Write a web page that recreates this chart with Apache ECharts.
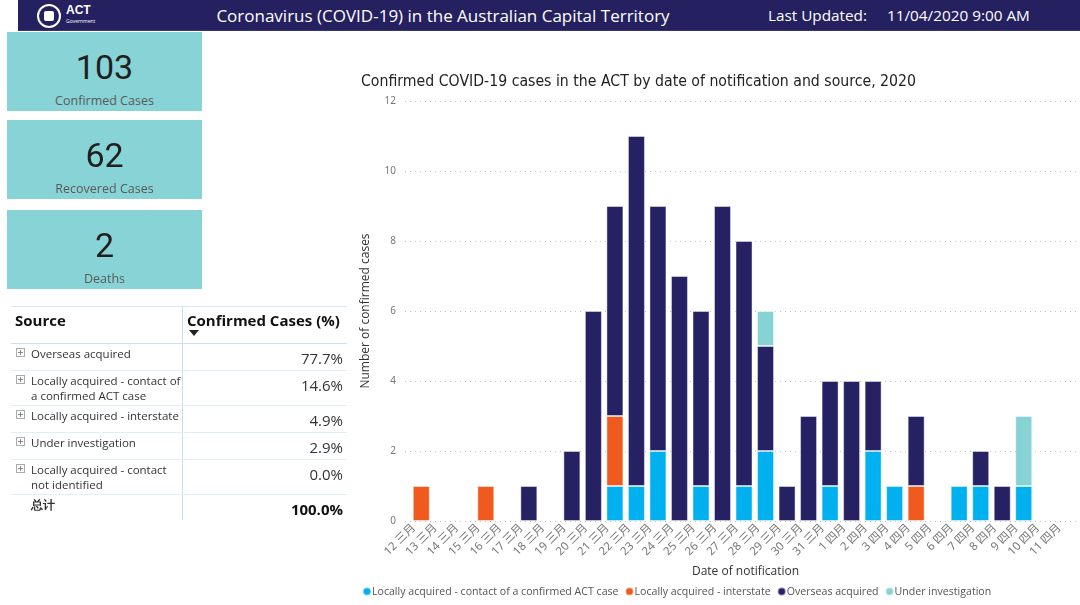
<!DOCTYPE html>
<html>
<head>
<meta charset="utf-8">
<script src="https://cdn.jsdelivr.net/npm/echarts@6/dist/echarts.min.js"></script>
<style>
  html, body { margin:0; padding:0; width:1080px; height:605px; overflow:hidden; background:#fff; font-family:"Open Sans","Noto Sans",sans-serif; }
  #chart { position:absolute; left:0; top:0; width:1080px; height:605px; }
  .hdr { position:absolute; left:18px; top:0; width:1062px; height:31px; background:#252160; border-bottom:1px solid #3a3672; box-sizing:border-box; color:#fff; }
  .hdr .t { position:absolute; left:0; width:850px; top:4px; text-align:center; font-size:17px; }
  .hdr .lu { position:absolute; left:750px; top:5px; font-size:15.3px; }
  .hdr .dt { position:absolute; left:869px; top:5px; font-size:15.3px; }
  .logo { position:absolute; left:19px; top:4px; width:20px; height:20px; border:2px solid #fff; border-radius:50%; }
  .logo i { position:absolute; left:5px; top:5px; width:10px; height:10px; background:#fff; border-radius:2px; }
  .act { position:absolute; left:48px; top:3px; font-size:12px; font-weight:bold; font-family:"Liberation Sans",sans-serif; }
  .gov { position:absolute; left:48px; top:18px; font-size:5px; }
  .card { position:absolute; left:7px; width:195px; height:79px; background:#88D3D5; text-align:center; }
  .card .n { position:absolute; left:0; right:0; top:15px; font-family:"Roboto",sans-serif; font-size:34px; color:#1f1f1f; line-height:40px; }
  .card .l { position:absolute; left:0; right:0; top:61px; font-size:12.5px; color:#5a5a5a; line-height:16px; font-family:"Open Sans",sans-serif; }
  .tbl { position:absolute; left:11px; top:306px; width:336px; }
  .tbl .top { position:absolute; left:0; top:0; width:336px; height:1px; background:#d6e9f5; }
  .tbl .vd { position:absolute; left:171px; top:0; width:1px; height:214px; background:#c3dff2; }
  .tbl .hl { position:absolute; left:0; width:336px; height:1px; background:#e2eef6; }
  .tbl .hb { position:absolute; left:0; width:336px; height:1px; background:#c9e2f3; }
  .tbl .h { position:absolute; font-weight:bold; font-size:15px; color:#111; font-family:"Open Sans",sans-serif; }
  .tbl .tri { position:absolute; left:178px; top:24px; width:0; height:0; border-left:5px solid transparent; border-right:5px solid transparent; border-top:6px solid #222; }
  .tbl .nm { position:absolute; left:20px; font-size:11.5px; color:#333; line-height:15px; }
  .tbl .ex { position:absolute; left:5px; width:7px; height:7px; border:1px solid #aaa; font-size:0; }
  .tbl .ex:before { content:""; position:absolute; left:1px; top:3px; width:5px; height:1px; background:#888; }
  .tbl .ex:after { content:""; position:absolute; left:3px; top:1px; width:1px; height:5px; background:#888; }
  .tbl .pc { position:absolute; right:4px; font-size:15px; color:#333; }
</style>
</head>
<body>
<div id="chart"></div>
<div class="hdr">
  <div class="logo"><i></i></div>
  <div class="act">ACT</div>
  <div class="gov">Government</div>
  <div class="t">Coronavirus (COVID-19) in the Australian Capital Territory</div>
  <div class="lu">Last Updated:</div>
  <div class="dt">11/04/2020 9:00 AM</div>
</div>
<div id="cards"></div>
<div class="tbl" id="tbl"></div>
<script>
// ---- data ----
const categories = ["12 三月","13 三月","14 三月","15 三月","16 三月","17 三月","18 三月","19 三月","20 三月","21 三月","22 三月","23 三月","24 三月","25 三月","26 三月","27 三月","28 三月","29 三月","30 三月","31 三月","1 四月","2 四月","3 四月","4 四月","5 四月","6 四月","7 四月","8 四月","9 四月","10 四月","11 四月"];
const localContact  = [0,0,0,0,0,0,0,0,0,0,1,1,2,0,1,0,1,2,0,0,1,0,2,1,0,0,1,1,0,1,0];
const interstate    = [0,1,0,0,1,0,0,0,0,0,2,0,0,0,0,0,0,0,0,0,0,0,0,0,1,0,0,0,0,0,0];
const overseas      = [0,0,0,0,0,0,1,0,2,6,6,10,7,7,5,9,7,3,1,3,3,4,2,0,2,0,0,1,1,0,0];
const underInvest   = [0,0,0,0,0,0,0,0,0,0,0,0,0,0,0,0,0,1,0,0,0,0,0,0,0,0,0,0,0,2,0];
const seriesNames = ["Locally acquired - contact of a confirmed ACT case","Locally acquired - interstate","Overseas acquired","Under investigation"];
const yTicks = [0,2,4,6,8,10,12];
const kpiValues = ["103","62","2"];
const kpiLabels = ["Confirmed Cases","Recovered Cases","Deaths"];
const tableSources = ["Overseas acquired","Locally acquired - contact of<br>a confirmed ACT case","Locally acquired - interstate","Under investigation","Locally acquired - contact<br>not identified"];
const tablePercents = ["77.7%","14.6%","4.9%","2.9%","0.0%"];
const tableTotal = ["总计","100.0%"];

// ---- KPI cards ----
const cardTops = [32,120,210];
document.getElementById('cards').innerHTML = kpiValues.map((v,i)=>
  `<div class="card" style="top:${cardTops[i]}px"><div class="n">${v}</div><div class="l">${kpiLabels[i]}</div></div>`).join('');

// ---- table ----
const rowTops = [37,64,99,126,153,188];
let th = `<div class="top"></div><div class="vd"></div>
<div class="h" style="left:4px;top:4px">Source</div>
<div class="h" style="left:176px;top:4px">Confirmed Cases (%)</div><div class="tri"></div>
<div class="hb" style="top:37px"></div>`;
tableSources.forEach((s,i)=>{
  const t = rowTops[i];
  th += `<div class="ex" style="top:${t+5}px"></div><div class="nm" style="top:${t+3}px">${s}</div>
  <div class="pc" style="top:${t+5}px">${tablePercents[i]}</div><div class="hl" style="top:${rowTops[i+1]}px"></div>`;
});
th += `<div class="nm" style="top:${rowTops[5]+3}px;font-weight:bold">${tableTotal[0]}</div>
<div class="pc" style="top:${rowTops[5]+5}px;font-weight:bold;color:#111">${tableTotal[1]}</div>`;
document.getElementById('tbl').innerHTML = th;

// ---- chart ----
const colors = ["#01B0EF","#F05A1E","#252162","#86D2D4"];
const dataSets = [localContact, interstate, overseas, underInvest];
const chart = echarts.init(document.getElementById('chart'), null, {renderer:'canvas'});
const font = '"Noto Sans","Noto Sans CJK SC",sans-serif';
chart.setOption({
  animation:false,
  color: colors,
  title: {
    text: "Confirmed COVID-19 cases in the ACT by date of notification and source, 2020",
    left: 356, top: 69,
    textStyle: { fontFamily:'"DejaVu Sans Condensed",sans-serif', fontSize:15.7, fontWeight:'normal', color:'#222' }
  },
  legend: {
    left: 357, top: 581, icon:'circle', itemWidth:8, itemHeight:8, itemGap:6,
    textStyle: { fontFamily:'"Open Sans",sans-serif', fontSize:10.6, color:'#555', padding:[0,0,0,-4] },
    data: seriesNames
  },
  grid: [
    { left:405, right:0, top:101, height:420 },
    { left:389, right:24, top:101, height:420 },
    { left:403, right:10, top:101, height:420 }
  ],
  xAxis: [
    { gridIndex:0, type:'value', min:0, max:1, axisLine:{show:false}, axisTick:{show:false}, axisLabel:{show:false}, splitLine:{show:false},
      name:'Date of notification', nameLocation:'middle', nameGap:45,
      nameTextStyle:{ fontFamily:'"Open Sans",sans-serif', fontSize:12, color:'#333', padding:[0,0,0,6] } },
    { gridIndex:1, type:'category', data:categories, axisLine:{show:false}, axisTick:{show:false}, axisLabel:{show:false} },
    { gridIndex:2, type:'category', data:categories, axisLine:{show:false}, axisTick:{show:false},
      axisLabel:{ interval:0, rotate:45, margin:5, fontFamily:font, fontSize:11.5, color:'#777' } }
  ],
  yAxis: [
    { gridIndex:0, type:'value', min:0, max:12, interval:2, data:yTicks,
      axisLine:{show:false}, axisTick:{show:false},
      axisLabel:{ margin:9, fontFamily:font, fontSize:10, color:'#777' },
      splitLine:{ lineStyle:{ type:[1,4], color:'#c2c2c2', width:1 } },
      name:'Number of confirmed cases', nameLocation:'middle', nameGap:33,
      nameTextStyle:{ fontFamily:'"Open Sans",sans-serif', fontSize:12, color:'#333' } },
    { gridIndex:1, type:'value', min:0, max:12, show:false },
    { gridIndex:2, type:'value', min:0, max:12, show:false }
  ],
  series: dataSets.map((d,i)=>({
    name: seriesNames[i], type:'bar', stack:'total', xAxisIndex:1, yAxisIndex:1,
    barWidth:17,
    itemStyle:{ color:colors[i], borderColor:'rgba(255,255,255,0.45)', borderWidth:1 },
    data: d.map(v => v === 0 ? null : v)
  }))
});
</script>
</body>
</html>
